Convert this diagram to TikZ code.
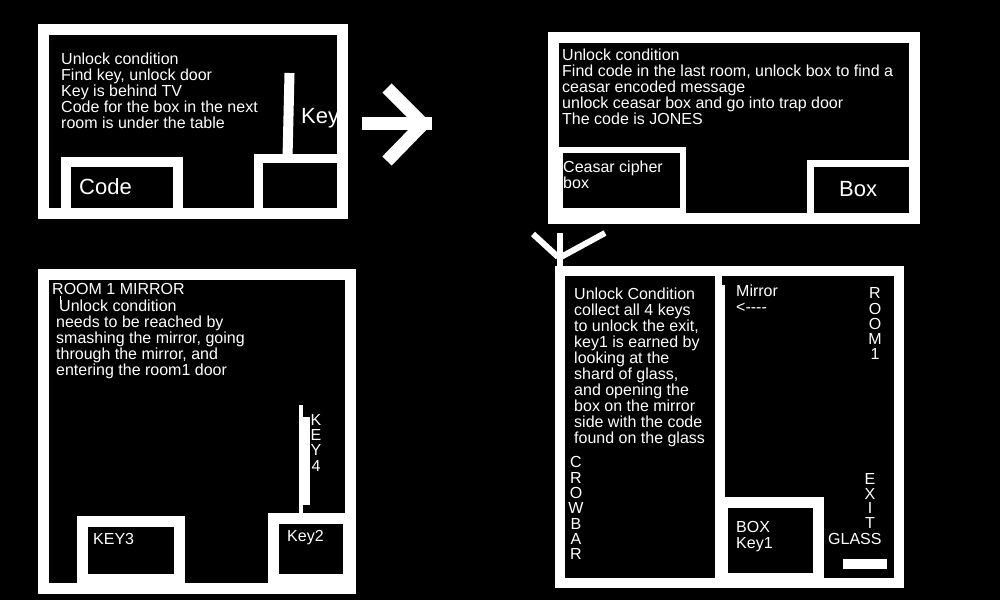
\documentclass[tikz,border=0pt]{standalone}
\usepackage{fontspec}
\setmainfont{Liberation Sans}
\usetikzlibrary{positioning}
\begin{document}
\begin{tikzpicture}[x=1pt,y=-1pt,
  wall/.style={white,line width=11pt},
  txt/.style={white,inner sep=0pt,anchor=base west,align=left,font=\fontsize{16}{16}\selectfont},
  para/.style={txt,anchor=north west},
  bigtxt/.style={txt,font=\fontsize{22}{22}\selectfont},
  vword/.style={white,inner sep=0pt,anchor=north,align=center,font=\fontsize{16}{15.3}\selectfont}]
\fill[black] (0,0) rectangle (1000,600);
\useasboundingbox (0,0) rectangle (1000,600);
% room 1
\draw[wall] (43.5,29) rectangle (342.5,213.5);
\draw[wall,line width=10pt] (66,213.5) -- (66,162) -- (178,162) -- (178,213.5);
\draw[wall,line width=9pt] (258.5,213.5) -- (258.5,158.5) -- (342.5,158.5);
\draw[wall,line width=10pt] (289.5,73) -- (287.5,158.5);
\node[para] (cond1) at (61,52.5) {Unlock condition\\Find key, unlock door\\Key is behind TV\\Code for the box in the next\\room is under the table};
\node[bigtxt] (code) at (79,194) {Code};
\node[bigtxt] (key) at (301,123) {Key};
% arrow to room 2
\begin{scope}
\clip (355,75) rectangle (432,175);
\draw[white,line width=13pt] (362,123.5) -- (432,123.5);
\draw[white,line width=13pt] (387,88) -- (423,124) -- (387,161);
\end{scope}
% room 2
\draw[wall] (553,37.5) rectangle (914.5,218.5);
\draw[wall,line width=6pt] (560,150) rectangle (683,211);
\draw[wall,line width=7pt] (810.5,218.5) -- (810.5,163.5) -- (914.5,163.5);
\node[para] (cond2) at (562,48.5) {Unlock condition\\Find code in the last room, unlock box to find a\\ceasar encoded message\\unlock ceasar box and go into trap door\\The code is JONES};
\node[para] (cipher) at (563,160.5) {Ceasar cipher\\box};
\node[bigtxt] (box) at (839,196) {Box};
% arrow down
\draw[white,line width=6pt] (533,234) -- (558,257);
\draw[white,line width=6pt] (605,233) -- (561,257);
\draw[white,line width=6pt] (560,233) -- (560,266);
% room 3
\draw[wall] (43,274.5) rectangle (350.5,588);
\draw[wall] (82.5,521.5) rectangle (179.5,579);
\draw[wall] (273.5,518.5) rectangle (348.5,579);
\draw[wall,line width=4pt] (301,405) -- (301,515);
\draw[wall,line width=7pt] (306.5,417) -- (306.5,505);
\draw[white,line width=1pt] (60,296) -- (60,304);
\node[txt] (title3) at (52,294) {ROOM 1 MIRROR};
\node[para] (cond3) at (56,300) {\hspace*{3pt}Unlock condition\\needs to be reached by\\smashing the mirror, going\\through the mirror, and\\entering the room1 door};
\node[vword] (key4) at (316,414) {K\\E\\Y\\4};
\node[txt] (key3) at (93,544) {KEY3};
\node[txt] (key2) at (287,541) {Key2};
% room 4
\draw[wall,line width=10pt] (560,271) rectangle (899,583);
\draw[wall,line width=10pt] (720,271) -- (720,583);
\fill[black] (722,276) rectangle (725,285);
\fill[white] (722,497) rectangle (824,578);
\fill[black] (728,508) rectangle (813,573);
\fill[white] (843,559) rectangle (887,569);
\node[para] (cond4) at (574,287.5) {Unlock Condition\\collect all 4 keys\\to unlock the exit,\\key1 is earned by\\looking at the\\shard of glass,\\and opening the\\box on the mirror\\side with the code\\found on the glass};
\node[vword] (crowbar) at (576,456.5) {C\\R\\O\\W\\B\\A\\R};
\node[para] (mirror) at (736,284.5) {Mirror\\<{-}{-}{-}{-}};
\node[vword] (room1) at (875,287.5) {R\\O\\O\\M\\1};
\node[vword,font=\fontsize{16}{14.5}\selectfont] (exit) at (870,473.5) {E\\X\\I\\T};
\node[txt] (glass) at (828,544) {GLASS};
\node[para] (box1) at (736,521.5) {BOX\\Key1};
\end{tikzpicture}
\end{document}
